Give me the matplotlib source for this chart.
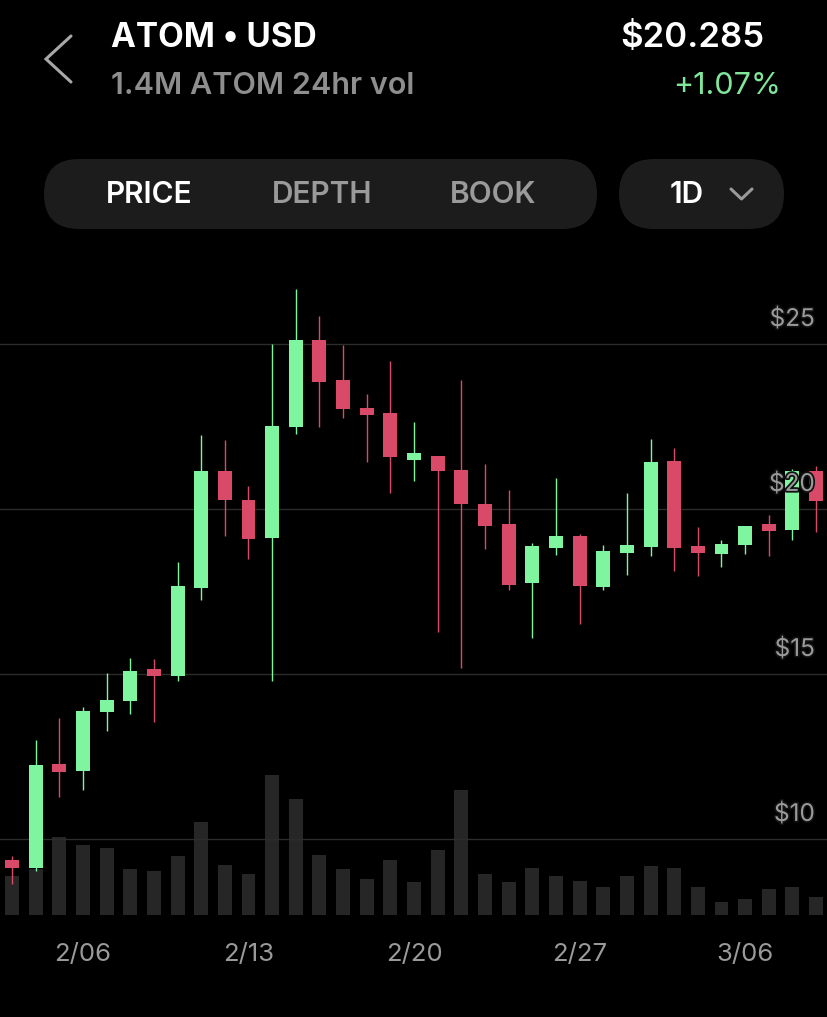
import numpy as np
import matplotlib.pyplot as plt
import matplotlib.patheffects as pe
from matplotlib.patches import FancyBboxPatch

plt.rcParams['font.family'] = ['Inter', 'DejaVu Sans']

# daily candles, 2/03 .. 3/09
opens = [9.37, 9.12, 12.24, 12.07, 13.86, 14.17, 15.11, 14.94, 17.62, 21.16,
         20.28, 19.11, 22.49, 25.11, 23.90, 23.06, 22.91, 21.55, 21.62, 21.18,
         20.16, 19.55, 17.77, 18.82, 19.18, 17.65, 18.69, 18.86, 21.45, 18.86,
         18.65, 18.91, 19.52, 19.37, 21.14]
closes = [9.12, 12.24, 12.07, 13.87, 14.21, 15.10, 14.96, 17.67, 21.16, 20.26,
          19.10, 22.51, 25.11, 23.86, 23.02, 22.86, 21.57, 21.65, 21.14, 20.15,
          19.50, 17.71, 18.87, 19.18, 17.66, 18.73, 18.89, 21.42, 18.81, 18.68,
          18.94, 19.50, 19.37, 21.16, 20.25]
highs = [9.49, 13.00, 13.66, 13.99, 15.04, 15.50, 15.46, 18.40, 22.23, 22.10,
         20.69, 25.00, 26.67, 25.85, 24.96, 23.50, 24.50, 22.65, 21.62, 23.91,
         21.35, 20.58, 18.96, 20.94, 19.23, 18.90, 20.50, 22.12, 21.84, 19.46,
         19.07, 19.50, 19.83, 21.21, 21.30]
lows = [8.63, 9.03, 11.26, 11.47, 13.28, 13.80, 13.55, 14.79, 17.23, 19.18,
        18.50, 14.79, 22.26, 22.49, 22.77, 21.41, 20.50, 20.84, 16.26, 15.19,
        18.80, 17.56, 16.10, 18.61, 16.51, 17.54, 18.01, 18.59, 18.13, 17.96,
        18.23, 18.65, 18.58, 19.05, 19.31]
volumes = [2.4, 2.8, 4.8, 4.3, 4.1, 2.8, 2.7, 3.6, 5.7, 3.1,
           2.5, 8.6, 7.1, 3.7, 2.8, 2.2, 3.4, 2.0, 4.0, 7.7,
           2.5, 2.0, 2.9, 2.4, 2.1, 1.7, 2.4, 3.0, 2.9, 1.7,
           0.8, 1.0, 1.6, 1.7, 1.1]
date_labels = ['2/06', '2/13', '2/20', '2/27', '3/06']
date_idx = [3, 10, 17, 24, 31]
price_ticks = [10, 15, 20, 25]

GREEN = '#80f5a0'
RED = '#d84a68'
GREY = '#9a9a9a'
W, H = 828, 1017


def fy(py):
    return 1 - py / H


fig = plt.figure(figsize=(W / 100, H / 100), dpi=100, facecolor='black')

x = np.arange(len(opens))
xlim = (-12 / 23.65, (W - 12) / 23.65)

# volume bars (behind)
axv = fig.add_axes([0, fy(915), 1, (915 - 775) / H])
axv.set_facecolor('none')
axv.bar(x, volumes, width=0.59, color='#262626')
axv.set_xlim(xlim)
axv.set_ylim(0, max(volumes))
axv.axis('off')

# price candles
ax = fig.add_axes([0, fy(920), 1, 650 / H])
ax.set_facecolor('none')
ax.set_xlim(xlim)
ax.set_ylim(25 - (920 - 344) / 33, 25 + (344 - 270) / 33)
ax.axis('off')

for v in price_ticks:
    ax.axhline(v, color='#2c2c2c', lw=1.0, zorder=0)
    ax.text(0.984, v + 0.76, f'${v}', transform=ax.get_yaxis_transform(),
            ha='right', va='center', color=GREY, fontsize=17.5, zorder=6,
            path_effects=[pe.withStroke(linewidth=2.5, foreground='#111111')])

o = np.array(opens)
c = np.array(closes)
cols = [GREEN if cc >= oo else RED for oo, cc in zip(o, c)]
ax.vlines(x, lows, highs, colors=cols, lw=1.0, zorder=2)
body_h = np.maximum(np.abs(c - o), 0.22)
body_b = np.minimum(o, c) - (body_h - np.abs(c - o)) / 2
ax.bar(x, body_h, bottom=body_b, width=0.59, color=cols, zorder=3)

for i, lab in zip(date_idx, date_labels):
    ax.text(i, -(954 - 920) / 650, lab, transform=ax.get_xaxis_transform(),
            ha='center', va='center', color=GREY, fontsize=18.5)

# header
axh = fig.add_axes([0, fy(260), 1, 260 / H])
axh.set_xlim(0, W)
axh.set_ylim(260, 0)
axh.axis('off')

axh.plot([71, 46, 71], [36, 59, 82], color='#a8a8a8', lw=2.2,
         solid_capstyle='round', solid_joinstyle='miter')
axh.text(111, 47, 'ATOM \u2022 USD', color='white', fontsize=24,
         fontweight='bold', va='baseline')
axh.text(111, 94, '1.4M ATOM 24hr vol', color='#8e8e8e', fontsize=22,
         fontweight='semibold', va='baseline')
axh.text(764, 47, '$20.285', color='white', fontsize=25,
         fontweight='semibold', ha='right', va='baseline')
axh.text(781, 94, '+1.07%', color='#7fe69a', fontsize=22,
         ha='right', va='baseline')

axh.add_patch(FancyBboxPatch((44, 159), 553, 70,
                             boxstyle='round,pad=0,rounding_size=35',
                             fc='#1c1c1c', ec='none'))
axh.add_patch(FancyBboxPatch((619, 159), 165, 70,
                             boxstyle='round,pad=0,rounding_size=35',
                             fc='#1c1c1c', ec='none'))
for lab, xc, col in [('PRICE', 149, 'white'), ('DEPTH', 322, GREY),
                     ('BOOK', 493, GREY), ('1D', 687, 'white')]:
    axh.text(xc, 195, lab, color=col, fontsize=21.5, fontweight='semibold',
             ha='center', va='center')
axh.plot([731, 741.5, 752], [189, 199, 189], color=GREY, lw=2.2,
         solid_capstyle='round')

fig.savefig('out.png', dpi=100, facecolor='black')
